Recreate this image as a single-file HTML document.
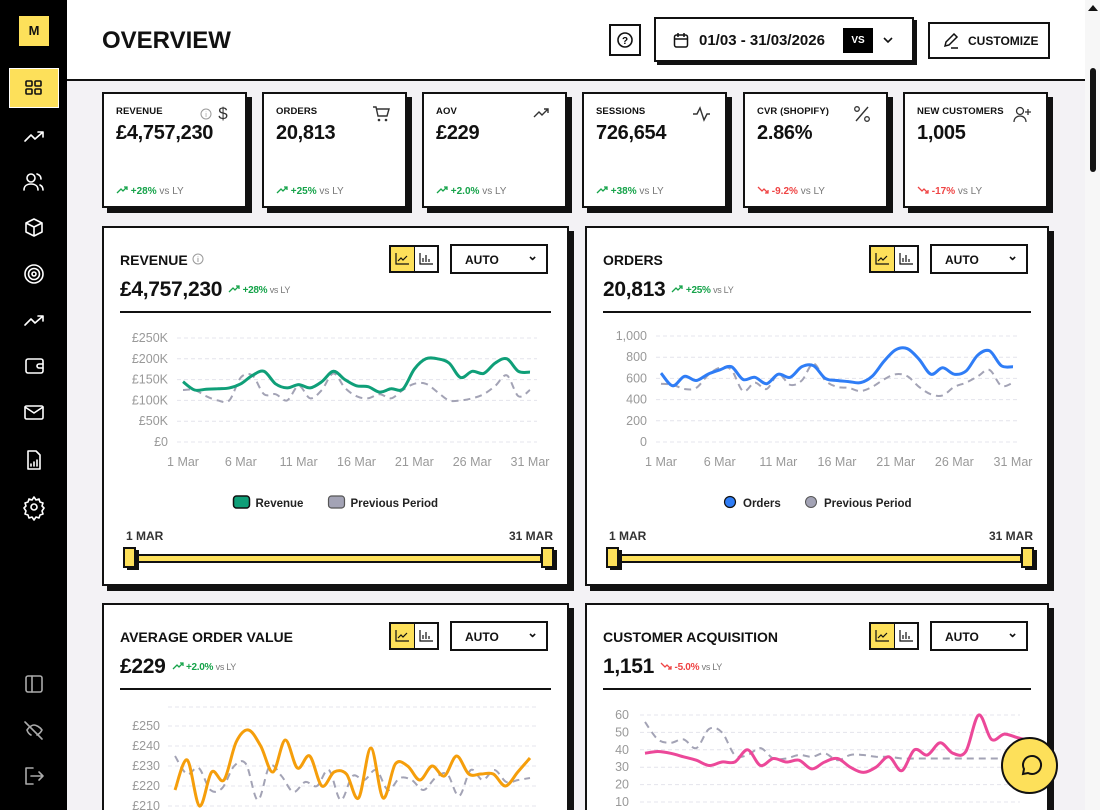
<!DOCTYPE html>
<html style="width:1100px;height:810px;overflow:hidden"><head><meta charset="utf-8">
<style>
*{box-sizing:border-box;margin:0;padding:0}
body{width:1100px;height:810px;overflow:hidden;background:#f3f2f5;font-family:"Liberation Sans",sans-serif;color:#111;position:relative}
.abs{position:absolute}
#side{left:0;top:0;width:67px;height:810px;background:#000}
#hdr{left:67px;top:0;width:1018px;height:81px;background:#fff;border-bottom:2px solid #111}
#scroll{left:1085px;top:0;width:15px;height:810px;background:#f7f7f7}
.card{position:absolute;background:#fff;border:2px solid #111;box-shadow:5px 5px 0 #111}
.kl{position:absolute;left:12px;top:12px;font-size:9.5px;font-weight:bold;letter-spacing:.1px}
.kv{position:absolute;left:12px;top:28px;font-size:20px;font-weight:bold;letter-spacing:-.3px}
.kc{position:absolute;left:12px;top:92px;font-size:10px;font-weight:bold}
.g{color:#16a34a}.r{color:#ef4444}.vs{color:#777;font-weight:normal}
.ki{position:absolute;right:12px;top:10px}
.ct{position:absolute;left:16px;top:24px;font-size:14px;font-weight:bold}
.cv{position:absolute;left:16px;top:50px;font-size:21px;font-weight:bold;letter-spacing:-.3px}
.cv small{font-size:10px;margin-left:6px;vertical-align:3px}
.cv small .vs{font-size:9px}
.tg{position:absolute;top:17px;width:50px;height:28px;border:2px solid #111;display:flex}
.tg div{flex:1;display:flex;align-items:center;justify-content:center}
.tg div:first-child{background:#fde05a;border-right:1px solid #111}
.dd{position:absolute;top:16px;width:98px;height:30px;border:2px solid #111;font-size:12px;font-weight:bold;padding:7px 0 0 13px}
.dd span{position:absolute;right:8px;top:2px;font-size:13px}
.hr{position:absolute;left:16px;right:16px;top:83px;height:2px;background:#111}
svg text{font-family:"Liberation Sans",sans-serif}
</style></head><body>
<div id="side" class="abs">
 <div class="abs" style="left:19px;top:16px;width:30px;height:30px;background:#fde05a;font-weight:bold;font-size:13px;text-align:center;line-height:30px">M</div>
 <div class="abs" style="left:9px;top:68px;width:50px;height:40px;background:#fde05a;border:1px solid #fff"></div>
 <svg class="abs" style="left:0;top:0" width="67" height="810" fill="none" stroke="#fff" stroke-width="1.6" stroke-linecap="round" stroke-linejoin="round">
  <g stroke="#111"><rect x="26" y="81" width="6" height="5" rx="1"/><rect x="35" y="81" width="6" height="5" rx="1"/><rect x="26" y="89" width="6" height="5" rx="1"/><rect x="35" y="89" width="6" height="5" rx="1"/></g>
  <path d="M25 141l6-6 4 4 8-7M38 132h5v5"/>
  <circle cx="31" cy="178" r="4"/><path d="M24 190c0-4 3-6 7-6s7 2 7 6M37 174c3 1 4 3 4 5M40 185c2 1 3 3 3 5"/>
  <path d="M34 219l8 4v9l-8 4-8-4v-9zM26 223l8 4 8-4M34 227v9"/>
  <circle cx="34" cy="274" r="9"/><circle cx="34" cy="274" r="5.5"/><circle cx="34" cy="274" r="2"/>
  <path d="M25 325l6-6 4 4 8-7M38 316h5v5"/>
  <rect x="26" y="359" width="17" height="14" rx="2"/><path d="M43 364h-4a2 2 0 000 4h4"/>
  <rect x="25" y="406" width="18" height="13" rx="1.5"/><path d="M25 407l9 6 9-6"/>
  <path d="M28 451h8l4 4v14h-12z"/><path d="M31 466v-2M34 466v-4M37 466v-6"/>
  <circle cx="34" cy="507" r="3"/><path d="M34 497l2 3 3-1 1 3 3 1-1 3 2 2-2 3 1 3-3 1-1 3-3-1-2 3-2-3-3 1-1-3-3-1 1-3-2-3 2-2-1-3 3-1 1-3 3 1z"/>
  <g stroke="#aaa"><rect x="26" y="676" width="16" height="16" rx="2"/><path d="M32 676v16"/>
  <path d="M25 722l17 17M27 730c2-3 5-5 7-5s6 2 8 5c-1 2-3 4-5 5M31 735c-2-1-3-2-4-5"/>
  <path d="M33 768h-7v16h7M31 776h12M39 772l4 4-4 4"/></g>
 </svg>
</div>
<div id="hdr" class="abs">
 <div class="abs" style="left:35px;top:27px;font-size:24px;font-weight:bold;letter-spacing:0">OVERVIEW</div>
 <div class="abs" style="left:542px;top:24px;width:32px;height:32px;border:2px solid #111;text-align:center"><svg width="28" height="28"><circle cx="14" cy="14" r="7" fill="none" stroke="#111" stroke-width="1.6"/><text x="14" y="18" font-size="10" font-weight="bold" text-anchor="middle">?</text></svg></div>
 <div class="abs" style="left:587px;top:17px;width:260px;height:45px;border:2px solid #111;box-shadow:3px 3px 0 #111;background:#fff">
  <svg class="abs" style="left:17px;top:13px" width="16" height="16" fill="none" stroke="#111" stroke-width="1.5"><rect x="1.5" y="3" width="13" height="12" rx="2"/><path d="M1.5 7h13M5 1v4M11 1v4"/></svg>
  <div class="abs" style="left:43px;top:13px;font-size:15px;font-weight:bold">01/03 - 31/03/2026</div>
  <div class="abs" style="left:187px;top:9px;width:30px;height:25px;background:#000;color:#fff;font-size:10px;font-weight:bold;text-align:center;line-height:25px">VS</div>
  <svg class="abs" style="left:226px;top:15px" width="12" height="12"><path d="M2 4l4 4 4-4" fill="none" stroke="#111" stroke-width="1.6"/></svg>
 </div>
 <div class="abs" style="left:861px;top:22px;width:122px;height:37px;border:2px solid #111;font-size:12px;font-weight:bold;padding:10px 0 0 38px">CUSTOMIZE
  <svg class="abs" style="left:12px;top:9px" width="18" height="16" fill="none" stroke="#111" stroke-width="1.5"><path d="M3 13l1-4 8-8 3 3-8 8zM9 15h7"/></svg></div>
</div>
<div id="scroll" class="abs"><div class="abs" style="left:5px;top:68px;width:6px;height:104px;background:#111;border-radius:3px"></div><div class="abs" style="left:3px;top:5px;border:5px solid transparent;border-bottom:6px solid #111;border-top:0"></div></div>

<div id="kpis"></div>
<div id="charts"></div>
<div class="abs" style="left:1001px;top:737px;width:57px;height:57px;border-radius:50%;background:#fde05a;border:2px solid #111"><svg width="53" height="53" fill="none" stroke="#111" stroke-width="2"><path d="M20 35l1-5a9 9 0 1 1 4 4z"/></svg></div>

<script>
const K=[["REVENUE","£4,757,230","+28%",1,"$"],["ORDERS","20,813","+25%",1,"cart"],["AOV","£229","+2.0%",1,"up"],["SESSIONS","726,654","+38%",1,"pulse"],["CVR (SHOPIFY)","2.86%","-9.2%",0,"%"],["NEW CUSTOMERS","1,005","-17%",0,"user"]];
const xs=[102,262,422,582,743,903];
const icons={"$":'<text x="12" y="15" font-size="17" text-anchor="middle" fill="#333">$</text><circle cx="-5" cy="10" r="5" fill="none" stroke="#999"/><text x="-5" y="13" font-size="7" text-anchor="middle" fill="#999">i</text>',
cart:'<path d="M2 3h3l2 9h9l2-7H6" fill="none" stroke="#333" stroke-width="1.4"/><circle cx="8" cy="16" r="1.3" fill="#333"/><circle cx="15" cy="16" r="1.3" fill="#333"/>',
up:'<path d="M3 13l5-5 3 3 6-6M13 5h4v4" fill="none" stroke="#333" stroke-width="1.4"/>',
pulse:'<path d="M2 10h4l3-6 4 12 3-6h3" fill="none" stroke="#333" stroke-width="1.4"/>',
"%":'<path d="M4 17L16 3" stroke="#333" stroke-width="1.4"/><circle cx="5" cy="5" r="2.3" fill="none" stroke="#333" stroke-width="1.3"/><circle cx="15" cy="15" r="2.3" fill="none" stroke="#333" stroke-width="1.3"/>',
user:'<circle cx="8" cy="7" r="3.5" fill="none" stroke="#333" stroke-width="1.3"/><path d="M2 18c0-4 3-6 6-6s6 2 6 6M16 5v6M13 8h6" fill="none" stroke="#333" stroke-width="1.3"/>'};
const arrUp='<svg width="12" height="8"><path d="M1 7l4-4 2 2 4-4M8 1h3v3" fill="none" stroke="currentColor" stroke-width="1.3"/></svg>';
const arrDn='<svg width="12" height="8"><path d="M1 1l4 4 2-2 4 4M8 7h3V4" fill="none" stroke="currentColor" stroke-width="1.3"/></svg>';
let h='';
K.forEach((k,i)=>{h+=`<div class="card" style="left:${xs[i]}px;top:92px;width:145px;height:116px"><div class="kl">${k[0]}</div><svg class="ki" width="22" height="22" style="overflow:visible">${icons[k[4]]}</svg><div class="kv">${k[1]}</div><div class="kc ${k[3]?'g':'r'}">${k[3]?arrUp:arrDn} ${k[2]} <span class="vs">vs LY</span></div></div>`});
document.getElementById('kpis').innerHTML=h;

function path(pts){let d=`M${pts[0][0]},${pts[0][1]}`;for(let i=0;i<pts.length-1;i++){const p0=pts[i-1]||pts[i],p1=pts[i],p2=pts[i+1],p3=pts[i+2]||p2;const c1=[p1[0]+(p2[0]-p0[0])/6,p1[1]+(p2[1]-p0[1])/6],c2=[p2[0]-(p3[0]-p1[0])/6,p2[1]-(p3[1]-p1[1])/6];d+=`C${c1[0].toFixed(1)},${c1[1].toFixed(1)} ${c2[0].toFixed(1)},${c2[1].toFixed(1)} ${p2[0].toFixed(1)},${p2[1].toFixed(1)}`}return d}
function ser(vals,x0,x1,fy){const n=vals.length;return vals.map((v,i)=>[x0+(x1-x0)*i/(n-1),fy(v)])}

const C=[
{x:102,y:226,w:467,h:360,t:"REVENUE",info:1,v:"£4,757,230",c:"+28%",up:1,col:"#0f9f78",lg:"Revenue",dot:0,
 yl:["£250K","£200K","£150K","£100K","£50K","£0"],y0:338,dy:20.8,lx:168,gx0:177,gx1:537,x0:183,x1:530,
 a:[145,125,127,128,130,140,160,170,140,130,138,130,145,170,150,135,133,120,128,127,175,200,200,190,155,170,165,190,200,170,168],
 b:[125,125,110,100,100,155,160,115,115,100,135,105,125,165,130,110,105,115,105,125,140,140,120,100,100,105,115,135,160,110,125],fy:v=>442-v*0.416,
 xl:["1 Mar","6 Mar","11 Mar","16 Mar","21 Mar","26 Mar","31 Mar"]},
{x:585,y:226,w:464,h:360,t:"ORDERS",v:"20,813",c:"+25%",up:1,col:"#2f7df6",lg:"Orders",dot:1,
 yl:["1,000","800","600","400","200","0"],y0:336,dy:21.2,lx:647,gx0:656,gx1:1018,x0:661,x1:1013,
 a:[650,530,620,580,640,680,710,590,610,550,640,610,710,720,600,580,570,560,620,760,870,880,780,640,700,640,670,820,860,720,710],
 b:[550,540,500,510,630,700,680,480,560,500,640,540,580,740,580,520,510,480,520,590,640,620,520,450,440,520,560,620,680,530,560],fy:v=>442-v*0.106,
 xl:["1 Mar","6 Mar","11 Mar","16 Mar","21 Mar","26 Mar","31 Mar"]},
{x:102,y:603,w:467,h:240,t:"AVERAGE ORDER VALUE",v:"£229",c:"+2.0%",up:1,col:"#f59e0b",
 yl:["£250","£240","£230","£220","£210"],y0:726,dy:20,lx:160,gx0:168,gx1:537,x0:175,x1:530,top:707,
 a:[218,233,210,227,223,242,248,240,227,243,229,235,220,227,226,214,239,214,231,230,223,230,225,235,226,226,226,220,227,234],
 b:[235,226,229,218,219,230,231,213,230,225,217,222,220,228,213,225,223,228,218,224,223,218,224,226,215,228,223,228,222,223,224],fy:v=>726+(250-v)*2},
{x:585,y:603,w:464,h:240,t:"CUSTOMER ACQUISITION",v:"1,151",c:"-5.0%",up:0,col:"#ec4899",
 yl:["60","50","40","30","20","10"],y0:715,dy:17.4,lx:629,gx0:640,gx1:1020,x0:645,x1:1030,
 a:[38,39,38,36,34,31,33,33,40,31,35,33,34,29,33,35,30,27,30,36,28,40,37,44,38,39,60,46,49,47,45],
 b:[56,46,44,46,41,52,50,37,37,41,35,35,37,36,38,34,37,37,36,36,35,35,35,35,35,35,35,35,35,35,35],fy:v=>802-(v-10)*1.74}
];
let H='';
C.forEach(c=>{
 H+=`<div class="card" style="left:${c.x}px;top:${c.y}px;width:${c.w}px;height:${c.h}px"><div class="ct">${c.t}${c.info?' <svg width="12" height="12" style="vertical-align:0"><circle cx="6" cy="6" r="5" fill="none" stroke="#999"/><text x="6" y="9" font-size="7" text-anchor="middle" fill="#999">i</text></svg>':''}</div>
 <div class="cv">${c.v}<small class="${c.up?'g':'r'}">${c.up?arrUp:arrDn} ${c.c} <span class="vs">vs LY</span></small></div>
 <div class="tg" style="left:${c.w-182}px"><div><svg width="14" height="12" fill="none" stroke="#111" stroke-width="1.2"><path d="M1 0v11h13M3 8l3-3 2 2 4-4"/></svg></div><div><svg width="14" height="12" fill="none" stroke="#111" stroke-width="1.2"><path d="M1 0v11h13M4 9V5M7 9V2M10 9V6"/></svg></div></div>
 <div class="dd" style="left:${c.w-121}px">AUTO<span>&#8964;</span></div><div class="hr"></div></div>`;
});
let S='<svg class="abs" style="left:0;top:0;pointer-events:none" width="1085" height="810">';
C.forEach(c=>{
 c.yl.forEach((l,i)=>{const y=c.y0+i*c.dy;S+=`<line x1="${c.gx0}" x2="${c.gx1}" y1="${y}" y2="${y}" stroke="#e4e4ec" stroke-dasharray="4 3"/><text x="${c.lx}" y="${y+4}" font-size="12.5" fill="#999" text-anchor="end">${l}</text>`});
 if(c.top)S+=`<line x1="${c.gx0}" x2="${c.gx1}" y1="${c.top}" y2="${c.top}" stroke="#e4e4ec" stroke-dasharray="4 3"/>`;
 if(c.xl)c.xl.forEach((l,i)=>{S+=`<text x="${c.x0+(c.x1-c.x0)*i/6}" y="466" font-size="12.5" fill="#999" text-anchor="middle">${l}</text>`});
 S+=`<path d="${path(ser(c.b,c.x0,c.x1,c.fy))}" fill="none" stroke="#a3a3b5" stroke-width="2" stroke-dasharray="7 5"/>`;
 S+=`<path d="${path(ser(c.a,c.x0,c.x1,c.fy))}" fill="none" stroke="${c.col}" stroke-width="3"/>`;
 if(c.lg){const cx=c.x+c.w/2;
  let m;
  if(c.dot){m=`<circle cx="${cx-87}" cy="502" r="5.5" fill="${c.col}" stroke="#111" stroke-width="1.2"/><text x="${cx-74}" y="507" font-size="11.5" font-weight="bold" fill="#222">${c.lg}</text><circle cx="${cx-6}" cy="502" r="5.5" fill="#a3a3b5" stroke="#555" stroke-width="1"/><text x="${cx+7}" y="507" font-size="11.5" font-weight="bold" fill="#222">Previous Period</text>`;}
  else{m=`<rect x="${cx-102}" y="496" width="16" height="12" rx="3" fill="${c.col}" stroke="#111" stroke-width="1.5"/><text x="${cx-80}" y="507" font-size="11.5" font-weight="bold" fill="#222">${c.lg}</text><rect x="${cx-7}" y="496" width="16" height="12" rx="3" fill="#a3a3b5" stroke="#555" stroke-width="1.2"/><text x="${cx+15}" y="507" font-size="11.5" font-weight="bold" fill="#222">Previous Period</text>`;}
  S+=m;
  const sx0=c.x+24,sx1=c.x+c.w-28;
  S+=`<text x="${sx0}" y="540" font-size="12" font-weight="bold" fill="#333">1 MAR</text><text x="${sx1+12}" y="540" font-size="12" font-weight="bold" fill="#333" text-anchor="end">31 MAR</text>`;
  S+=`<rect x="${sx0+6}" y="555" width="${sx1-sx0-6}" height="7" fill="#fde05a" stroke="#111" stroke-width="2"/>`;
  S+=`<rect x="${sx0+1}" y="550" width="12" height="20" fill="#111"/><rect x="${sx0-2}" y="548" width="11" height="19" fill="#fde05a" stroke="#111" stroke-width="2"/>`;
  S+=`<rect x="${sx1+4}" y="550" width="12" height="20" fill="#111"/><rect x="${sx1+1}" y="548" width="11" height="19" fill="#fde05a" stroke="#111" stroke-width="2"/>`;}
});
S+='</svg>';
document.getElementById('charts').innerHTML=H+S;
</script>
</body></html>
